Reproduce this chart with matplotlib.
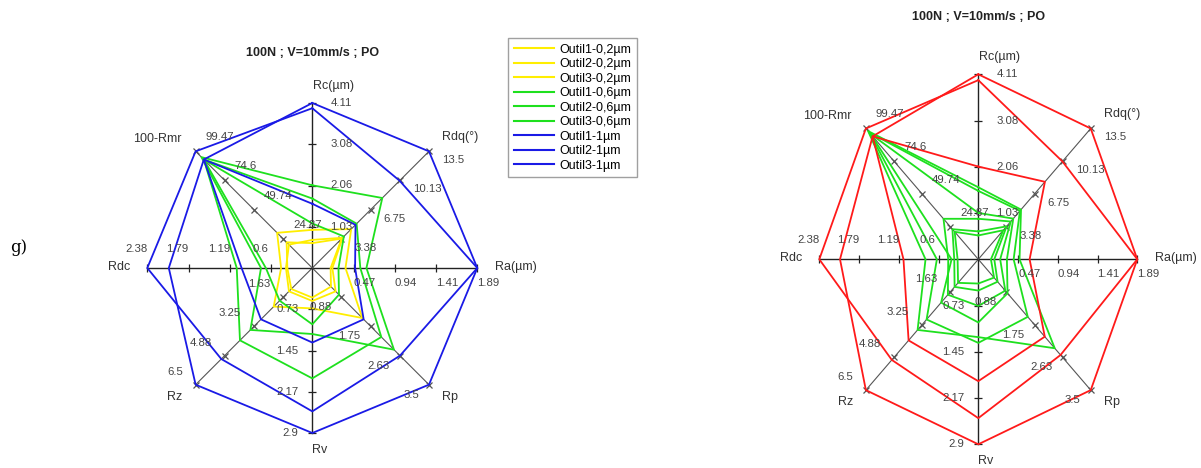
import numpy as np
import matplotlib.pyplot as plt
from matplotlib.lines import Line2D

W, H = 1201, 468
plt.rcParams['font.family'] = ['Liberation Sans', 'DejaVu Sans']

# axes of the radar, clockwise from the top
axis_names = ['Rc(µm)', 'Rdq(°)', 'Ra(µm)', 'Rp', 'Rv', 'Rz', 'Rdc', '100-Rmr']
axis_angles = [90, 45, 0, -45, -90, -135, 180, 135]
axis_max = [4.11, 13.5, 1.89, 3.5, 2.9, 6.5, 2.38, 99.47]
tick_labels = [
    ['1.03', '2.06', '3.08', '4.11'],
    ['3.38', '6.75', '10.13', '13.5'],
    ['0.47', '0.94', '1.41', '1.89'],
    ['0.88', '1.75', '2.63', '3.5'],
    ['0.73', '1.45', '2.17', '2.9'],
    ['1.63', '3.25', '4.88', '6.5'],
    ['0.6', '1.19', '1.79', '2.38'],
    ['24.87', '49.74', '74.6', '99.47'],
]

# left chart : values in the axis units (Rc, Rdq, Ra, Rp, Rv, Rz, Rdc, 100-Rmr)
left_labels = ['Outil1-0,2µm', 'Outil2-0,2µm', 'Outil3-0,2µm',
               'Outil1-0,6µm', 'Outil2-0,6µm', 'Outil3-0,6µm',
               'Outil1-1µm', 'Outil2-1µm', 'Outil3-1µm']
left_y1 = [0.95, 4.5, 0.38, 1.50, 0.71, 2.15, 0.45, 30.0]
left_y2 = [0.62, 3.4, 0.21, 0.56, 0.52, 1.17, 0.36, 21.9]
left_y3 = [0.70, 3.5, 0.23, 0.70, 0.58, 1.30, 0.38, 19.9]
left_g1 = [2.06, 8.1, 0.62, 2.45, 1.16, 3.45, 0.74, 94.5]
left_g2 = [1.73, 5.13, 0.55, 2.07, 1.94, 4.03, 1.09, 92.5]
left_g3 = [1.11, 3.65, 0.30, 0.80, 0.99, 1.82, 0.67, 92.5]
left_b1 = [4.11, 13.5, 1.89, 3.5, 2.9, 6.5, 2.07, 92.5]
left_b2 = [3.98, 10.1, 1.89, 2.63, 2.52, 5.07, 2.38, 99.47]
left_b3 = [1.60, 5.0, 0.49, 1.54, 1.31, 2.86, 1.02, 92.5]

# right chart
right_r1 = [4.11, 13.5, 1.89, 3.5, 2.9, 6.5, 2.07, 93.5]
right_r2 = [3.98, 10.1, 1.89, 2.56, 2.49, 5.0, 2.38, 99.47]
right_r3 = [2.06, 8.0, 0.61, 2.07, 1.91, 4.03, 1.12, 93.5]
right_g1 = [1.60, 5.13, 0.49, 2.38, 1.22, 3.51, 0.79, 97.5]
right_g2 = [1.52, 5.0, 0.42, 1.54, 1.31, 2.99, 0.62, 96.5]
right_g3 = [1.03, 4.2, 0.34, 0.91, 0.99, 2.15, 0.40, 95.5]
right_g4 = [0.90, 3.9, 0.26, 0.84, 0.73, 1.76, 0.45, 30.8]
right_g5 = [0.62, 3.4, 0.19, 0.60, 0.49, 1.37, 0.36, 22.9]
right_g6 = [0.53, 3.0, 0.15, 0.49, 0.38, 1.17, 0.31, 20.9]

YEL, GRN, BLU, RED = '#ffee00', '#1ee01e', '#1a1ae6', '#ff1a1a'

fig = plt.figure(figsize=(W / 100, H / 100), dpi=100)


def radar(cx, cy, rx, ry, title, title_gap, series, colors):
    ext = 1.7
    ax = fig.add_axes([(cx - ext * rx) / W, 1 - (cy + ext * ry) / H,
                       2 * ext * rx / W, 2 * ext * ry / H])
    ax.set_xlim(-ext, ext)
    ax.set_ylim(-ext, ext)
    ax.axis('off')
    ang = np.deg2rad(axis_angles)
    ux, uy = np.cos(ang), np.sin(ang)
    f = np.array([0.25, 0.5, 0.75, 1.0])

    tl_off = [(18, 0, 'left'), (13, 9, 'left'), (0, 15, 'left'), (-10, 10, 'right'),
              (-14, 0, 'right'), (-13, -13, 'right'), (-11, -19, 'center'), (10, -14, 'left')]
    name_off = [(1, -17, 'left'), (13, -14, 'left'), (18, -1, 'left'), (13, 12, 'left'),
                (0, 17, 'left'), (-13, 12, 'right'), (-17, -1, 'right'), (-14, -12, 'right')]
    for k in range(8):
        diag = axis_angles[k] % 90 != 0
        col = '#555555' if diag else '#222222'
        ax.plot([0, ux[k]], [0, uy[k]], color=col, lw=0.8 if diag else 1.0, zorder=1)
        if diag:
            mk, ms = 'x', 4.5
        elif axis_angles[k] in (0, 180):
            mk, ms = '|', 6
        else:
            mk, ms = '_', 6
        ax.plot(f * ux[k], f * uy[k], ls='none', marker=mk, ms=ms, mew=0.9,
                color=col, zorder=1)
        dx, dy, ha = tl_off[k]
        for j in range(4):
            ax.annotate(tick_labels[k][j], (f[j] * ux[k], f[j] * uy[k]),
                        xytext=(dx, -dy), textcoords='offset pixels',
                        ha=ha, va='center', fontsize=8.2, color='#444444')
        dx, dy, ha = name_off[k]
        ax.annotate(axis_names[k], (ux[k], uy[k]), xytext=(dx, -dy),
                    textcoords='offset pixels', ha=ha, va='center',
                    fontsize=9, color='#333333')

    for vals, c in zip(series, colors):
        fr = np.array(vals) / np.array(axis_max)
        x = np.append(fr * ux, fr[0] * ux[0])
        y = np.append(fr * uy, fr[0] * uy[0])
        ax.plot(x, y, color=c, lw=1.3, zorder=2)

    ax.annotate(title, (0, 1), xytext=(0, title_gap), textcoords='offset pixels',
                ha='center', va='center', fontsize=9, fontweight='bold', color='#222222')
    return ax


left_series = [left_y1, left_y2, left_y3, left_g1, left_g2, left_g3, left_b1, left_b2, left_b3]
left_colors = [YEL] * 3 + [GRN] * 3 + [BLU] * 3
radar(312.3, 268, 165, 165, '100N ; V=10mm/s ; PO', 50, left_series, left_colors)

right_series = [right_g1, right_g2, right_g3, right_g4, right_g5, right_g6,
                right_r1, right_r2, right_r3]
right_colors = [GRN] * 6 + [RED] * 3
radar(978.3, 259.3, 159, 185, '100N ; V=10mm/s ; PO', 57, right_series, right_colors)

handles = [Line2D([], [], color=c, lw=1.5) for c in left_colors]
fig.legend(handles, left_labels, loc='upper left', bbox_to_anchor=(508 / W, 1 - 38 / H),
           frameon=True, fancybox=False, edgecolor='#888888', fontsize=9,
           labelspacing=0.2, handlelength=3.2, handletextpad=0.45, borderpad=0.45,
           borderaxespad=0)

fig.text(10 / W, 1 - 248 / H, 'g)', family='DejaVu Serif', fontsize=12, va='center')

fig.savefig('out.png', dpi=100)
